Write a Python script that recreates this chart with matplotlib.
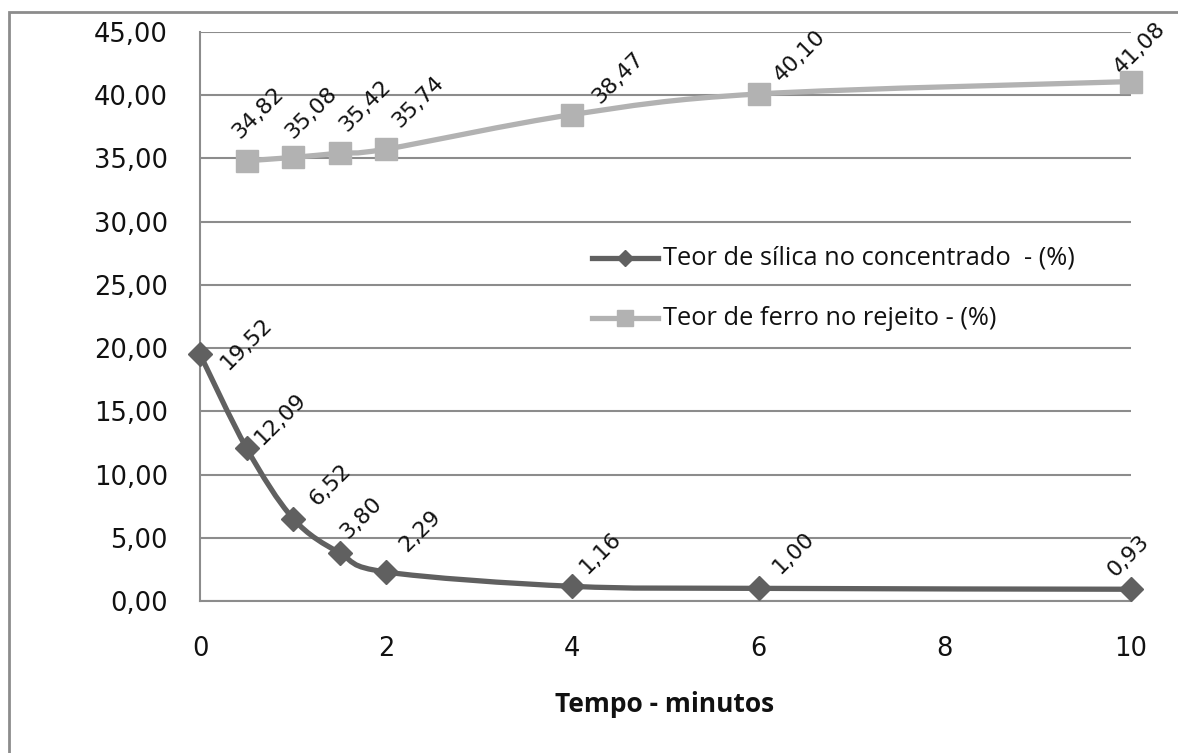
import numpy as np
import matplotlib
matplotlib.use("Agg")
import matplotlib.pyplot as plt
from matplotlib.path import Path
from matplotlib.patches import PathPatch, Rectangle
from matplotlib.lines import Line2D

# ---- data ----
silica_x = [0, 0.5, 1, 1.5, 2, 4, 6, 10]
silica_y = [19.52, 12.09, 6.52, 3.80, 2.29, 1.16, 1.00, 0.93]
ferro_x = [0.5, 1, 1.5, 2, 4, 6, 10]
ferro_y = [34.82, 35.08, 35.42, 35.74, 38.47, 40.10, 41.08]
silica_name = "Teor de sílica no concentrado  - (%)"
ferro_name = "Teor de ferro no rejeito - (%)"
x_ticks = [0, 2, 4, 6, 8, 10]
y_ticks = [0, 5, 10, 15, 20, 25, 30, 35, 40, 45]
x_title = "Tempo - minutos"

# label offsets (pixels, right / down) - style only
silica_lbl_off = [(28, 16), (15.5, -3), (24, -11.6), (8.4, -13), (21, -19),
                  (14.6, -11.3), (21.4, -13.4), (-16, -11.2)]
ferro_lbl_off = [(-6.5, -21), (0, -17.6), (7.4, -21), (14, -21), (27.6, -9.7),
                 (23.4, -11), (-9, -6.7)]

DARK = "#606060"
LIGHT = "#b2b2b2"
GRID = "#8c8c8c"

W, H = 1178, 753
fig = plt.figure(figsize=(W / 100, H / 100), dpi=100)
fig.patch.set_facecolor("white")

# outer chart border (left & top visible)
fig.add_artist(Rectangle((9 / W, 1 - 790 / H), 1200 / W, (790 - 12) / H,
                         transform=fig.transFigure, fill=False,
                         edgecolor=GRID, linewidth=2.0, clip_on=False))

ax = fig.add_axes([200 / W, 1 - 601 / H, (1131 - 200) / W, (601 - 32) / H])
ax.set_xlim(0, 10)
ax.set_ylim(0, 45)
ax.set_yticks(y_ticks)
ax.set_xticks(x_ticks)
ax.set_yticklabels([f"{v:.2f}".replace(".", ",") for v in y_ticks])
ax.set_xticklabels([str(v) for v in x_ticks])
ax.tick_params(axis="both", length=0, labelsize=18.5, labelcolor="#111111",
               labelfontfamily="DejaVu Sans")
ax.tick_params(axis="y", pad=23)
ax.tick_params(axis="x", pad=25)
for s in ["top", "right"]:
    ax.spines[s].set_visible(False)
for s in ["left", "bottom"]:
    ax.spines[s].set_color(GRID)
    ax.spines[s].set_linewidth(1.5)
ax.yaxis.grid(True, color=GRID, linewidth=1.5)
ax.set_axisbelow(True)


def smooth_path(x, y):
    pts = np.column_stack([x, y]).astype(float)
    n = len(pts)
    verts = [pts[0]]
    codes = [Path.MOVETO]
    for i in range(n - 1):
        p0 = pts[i - 1] if i > 0 else pts[i]
        p1 = pts[i]
        p2 = pts[i + 1]
        p3 = pts[i + 2] if i + 2 < n else pts[i + 1]
        c1 = p1 + (p2 - p0) / 6.0
        c2 = p2 - (p3 - p1) / 6.0
        verts += [c1, c2, p2]
        codes += [Path.CURVE4] * 3
    return Path(verts, codes)


for xs, ys, col in [(silica_x, silica_y, DARK), (ferro_x, ferro_y, LIGHT)]:
    ax.add_patch(PathPatch(smooth_path(xs, ys), facecolor="none", edgecolor=col,
                           linewidth=3.8, capstyle="round", joinstyle="round",
                           clip_on=False, zorder=3))

ax.plot(silica_x, silica_y, linestyle="none", marker="D", markersize=12,
        color=DARK, clip_on=False, zorder=4)
ax.plot(ferro_x, ferro_y, linestyle="none", marker="s", markersize=16.5,
        color=LIGHT, clip_on=False, zorder=4)


def fmt(v):
    return f"{v:.2f}".replace(".", ",")


for xs, ys, offs in [(silica_x, silica_y, silica_lbl_off), (ferro_x, ferro_y, ferro_lbl_off)]:
    for xv, yv, (dx, dy) in zip(xs, ys, offs):
        ax.annotate(fmt(yv), (xv, yv), xytext=(dx * 0.72, -dy * 0.72),
                    textcoords="offset points", rotation=45,
                    rotation_mode="anchor", ha="left", va="baseline",
                    fontsize=16, family="DejaVu Sans", color="#111111",
                    annotation_clip=False, zorder=5)

# legend (manual)
leg_font = "Open Sans"
for i, (name, col, mk, ms) in enumerate([(silica_name, DARK, "D", 8),
                                         (ferro_name, LIGHT, "s", 11)]):
    yy = 1 - (258 + 60 * i) / H
    fig.add_artist(Line2D([592 / W, 658 / W], [yy, yy], transform=fig.transFigure,
                          color=col, linewidth=3.8))
    fig.add_artist(Line2D([625 / W], [yy], transform=fig.transFigure, color=col,
                          marker=mk, markersize=ms, linestyle="none"))
    fig.text(663 / W, yy, name, ha="left", va="center", fontsize=18.3,
             family=leg_font, color="#111111")

fig.text(665 / W, 1 - 704 / H, x_title, ha="center", va="center", fontsize=19,
         family=leg_font, fontweight="bold", color="#111111")

fig.savefig("out.png", dpi=100, facecolor="white")
